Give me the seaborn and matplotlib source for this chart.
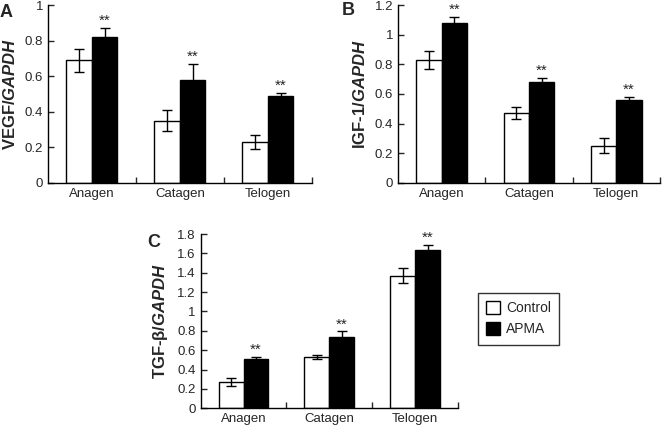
import numpy as np
import pandas as pd
import seaborn as sns
import matplotlib.pyplot as plt
from matplotlib.patches import Patch

# values
phases = ['Anagen', 'Catagen', 'Telogen']
groups = ['Control', 'APMA']

vegf_control = [0.69, 0.35, 0.23]
vegf_control_err = [0.065, 0.06, 0.04]
vegf_apma = [0.82, 0.58, 0.49]
vegf_apma_err = [0.05, 0.09, 0.015]

igf_control = [0.83, 0.47, 0.25]
igf_control_err = [0.06, 0.04, 0.05]
igf_apma = [1.08, 0.68, 0.56]
igf_apma_err = [0.04, 0.03, 0.02]

tgf_control = [0.27, 0.53, 1.37]
tgf_control_err = [0.04, 0.025, 0.075]
tgf_apma = [0.51, 0.74, 1.64]
tgf_apma_err = [0.025, 0.055, 0.05]

sns.set_theme(style='ticks')
plt.rcParams['font.family'] = ['Liberation Sans', 'DejaVu Sans']
plt.rcParams['mathtext.fontset'] = 'custom'
plt.rcParams['mathtext.bfit'] = 'Liberation Sans:italic:bold'
plt.rcParams['mathtext.it'] = 'Liberation Sans:italic'
plt.rcParams['mathtext.rm'] = 'Liberation Sans'
plt.rcParams['mathtext.bf'] = 'Liberation Sans:bold'

fig = plt.figure(figsize=(6.62, 4.25), dpi=100)


def panel(rect, control, control_err, apma, apma_err, ymax, ystep, ylabel, letter, letter_xy):
    ax = fig.add_axes(rect)
    df = pd.DataFrame({
        'phase': phases * 2,
        'group': [groups[0]] * 3 + [groups[1]] * 3,
        'value': control + apma,
    })
    sns.barplot(data=df, x='phase', y='value', hue='group', order=phases, hue_order=groups,
                palette=['white', 'black'], edgecolor='black', linewidth=1.0,
                width=0.58, errorbar=None, legend=False, ax=ax)
    errs = control_err + apma_err
    vals = control + apma
    for patch, v, e in zip(ax.patches, vals, errs):
        xc = patch.get_x() + patch.get_width() / 2
        ax.errorbar(xc, v, yerr=e, fmt='none', ecolor='black', elinewidth=1.0,
                    capsize=3.5, capthick=1.0)
    # significance marks above the APMA bars
    for patch, v, e in zip(ax.patches[3:6], apma, apma_err):
        xc = patch.get_x() + patch.get_width() / 2
        ax.annotate('**', (xc, v + e), xytext=(0, 0), textcoords='offset points',
                    ha='center', va='bottom', fontsize=11)
    ax.set_xlim(-0.5, 2.5)
    ax.set_ylim(0, ymax)
    ticks = np.round(np.arange(0, ymax + 1e-9, ystep), 2)
    ax.set_yticks(ticks)
    ax.set_yticklabels(['%g' % t for t in ticks])
    ax.set_xticks([0.5, 1.5, 2.5], minor=True)
    ax.tick_params(axis='x', which='major', length=0, pad=3.5, labelsize=9.5)
    ax.tick_params(axis='x', which='minor', direction='in', length=4, width=1.0)
    ax.tick_params(axis='y', direction='in', length=4, width=1.0, pad=3.5, labelsize=9.5)
    for s in ['top', 'right']:
        ax.spines[s].set_visible(False)
    for s in ['left', 'bottom']:
        ax.spines[s].set_linewidth(1.0)
        ax.spines[s].set_color('black')
    ax.set_xlabel('')
    ax.set_ylabel(ylabel, fontsize=12, fontweight='bold', labelpad=5)
    fig.text(letter_xy[0], letter_xy[1], letter, fontsize=13, fontweight='bold',
             ha='left', va='top')
    return ax


panel([0.0725, 0.570, 0.3985, 0.418], vegf_control, vegf_control_err, vegf_apma, vegf_apma_err,
      1.0, 0.2, r'VEGF/$\mathbfit{GAPDH}$', 'A', (0.0, 0.99))
panel([0.601, 0.570, 0.396, 0.418], igf_control, igf_control_err, igf_apma, igf_apma_err,
      1.2, 0.2, r'IGF-1/$\mathbfit{GAPDH}$', 'B', (0.516, 0.995))
panel([0.303, 0.0393, 0.389, 0.410], tgf_control, tgf_control_err, tgf_apma, tgf_apma_err,
      1.8, 0.2, r'TGF-β/$\mathbfit{GAPDH}$', 'C', (0.222, 0.45))

handles = [Patch(facecolor='white', edgecolor='black', linewidth=1.0, label='Control'),
           Patch(facecolor='black', edgecolor='black', linewidth=1.0, label='APMA')]
leg = fig.legend(handles=handles, loc='upper left', bbox_to_anchor=(478 / 662, 1 - 293 / 425),
                 frameon=True, fancybox=False, edgecolor='black', fontsize=10,
                 handlelength=1.0, handleheight=1.0, handletextpad=0.4,
                 borderpad=0.6, labelspacing=0.5, borderaxespad=0)
leg.get_frame().set_linewidth(1.0)

fig.savefig('out.png', dpi=100)
